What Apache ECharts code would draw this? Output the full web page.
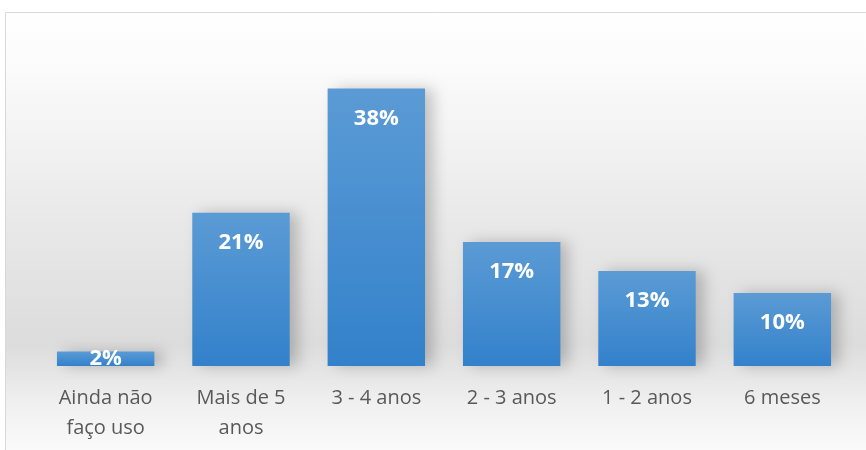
<!DOCTYPE html>
<html>
<head>
<meta charset="utf-8">
<script src="https://cdn.jsdelivr.net/npm/echarts@6/dist/echarts.min.js"></script>
<style>html,body{margin:0;padding:0;background:#fff}#c{width:866px;height:450px}</style>
</head>
<body>
<div id="c"></div>
<script>
const categories = ['Ainda não\nfaço uso', 'Mais de 5\nanos', '3 - 4 anos', '2 - 3 anos', '1 - 2 anos', '6 meses'];
const values = [2, 21, 38, 17, 13, 10];

const chart = echarts.init(document.getElementById('c'));
chart.setOption({
  animation: false,
  graphic: [{
    type: 'rect', z: -10, silent: true,
    shape: { x: 5.5, y: 12.5, width: 880, height: 460 },
    style: {
      fill: new echarts.graphic.LinearGradient(0, 0, 0, 1, [
        { offset: 0, color: '#ffffff' },
        { offset: 0.12, color: '#fbfbfb' },
        { offset: 0.45, color: '#e9e9e9' },
        { offset: 0.72, color: '#dcdcdc' },
        { offset: 0.85, color: '#f0f0f0' },
        { offset: 1, color: '#ffffff' }
      ]),
      stroke: '#d9d9d9', lineWidth: 1
    }
  }],
  grid: { left: 38, right: 16, top: 74, bottom: 84 },
  xAxis: {
    type: 'category',
    data: categories,
    axisLine: { show: false },
    axisTick: { show: false },
    axisLabel: { color: '#595959', fontSize: 20, fontFamily: 'Open Sans', margin: 17, lineHeight: 30, interval: 0 }
  },
  yAxis: { type: 'value', min: 0, max: 40, show: false, splitLine: { show: false } },
  series: [{
    type: 'bar',
    data: values.map((v, i) => i === 0 ? { value: v, label: { position: 'inside' } } : v),
    barCategoryGap: '28%',
    itemStyle: {
      color: new echarts.graphic.LinearGradient(0, 0, 0, 1, [
        { offset: 0, color: '#5b9bd5' },
        { offset: 1, color: '#3381cb' }
      ]),
      shadowColor: 'rgba(0,0,0,0.22)', shadowBlur: 14, shadowOffsetX: 8, shadowOffsetY: 0
    },
    label: {
      show: true, position: 'insideTop', distance: 19,
      formatter: '{c}%', color: '#ffffff', fontWeight: 'bold', fontSize: 22, fontFamily: 'Open Sans'
    }
  }]
});
</script>
</body>
</html>
